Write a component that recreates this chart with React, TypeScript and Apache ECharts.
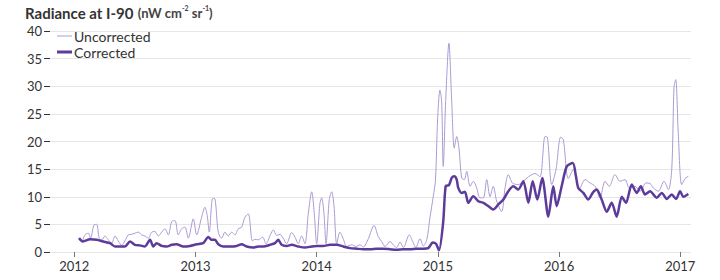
import React, { useEffect, useRef } from "react";
import * as echarts from "echarts";

const yearTicks = [2012, 2013, 2014, 2015, 2016, 2017];

const uncorrectedYears = [
  2012.041, 2012.061, 2012.088, 2012.116, 2012.135, 2012.163, 2012.185, 2012.206, 2012.226, 2012.253,
  2012.281, 2012.309, 2012.336, 2012.363, 2012.391, 2012.418, 2012.446, 2012.474, 2012.501, 2012.528,
  2012.556, 2012.583, 2012.611, 2012.639, 2012.666, 2012.693, 2012.721, 2012.748, 2012.776, 2012.804,
  2012.831, 2012.858, 2012.886, 2012.913, 2012.941, 2012.982,
  2013.010, 2013.051, 2013.078, 2013.097, 2013.114, 2013.142, 2013.161, 2013.188, 2013.216, 2013.243,
  2013.271, 2013.299, 2013.326, 2013.353, 2013.381, 2013.408, 2013.436, 2013.470, 2013.491, 2013.518,
  2013.554, 2013.582, 2013.620, 2013.642, 2013.670, 2013.697, 2013.724, 2013.752, 2013.794, 2013.821,
  2013.848, 2013.876, 2013.903, 2013.931, 2013.959, 2013.980,
  2014.000, 2014.027, 2014.041, 2014.060, 2014.077, 2014.104, 2014.124, 2014.143, 2014.165, 2014.192,
  2014.219, 2014.248, 2014.289, 2014.324, 2014.357, 2014.384, 2014.426, 2014.473, 2014.508, 2014.536,
  2014.564, 2014.605, 2014.632, 2014.660, 2014.687, 2014.715, 2014.764, 2014.792, 2014.819, 2014.852,
  2014.880, 2014.908, 2014.935, 2014.962, 2014.980, 2014.998,
  2015.017, 2015.031, 2015.044, 2015.064, 2015.091, 2015.114, 2015.135, 2015.155, 2015.174, 2015.196,
  2015.218, 2015.238, 2015.265, 2015.292, 2015.320, 2015.347, 2015.375, 2015.403, 2015.430, 2015.457,
  2015.485, 2015.526, 2015.554, 2015.581, 2015.614, 2015.663, 2015.705, 2015.746, 2015.801, 2015.842,
  2015.884, 2015.903, 2015.939, 2015.974,
  2016.013, 2016.035, 2016.076, 2016.117, 2016.167, 2016.214, 2016.255, 2016.296, 2016.337, 2016.379,
  2016.414, 2016.461, 2016.502, 2016.544, 2016.579, 2016.626, 2016.668, 2016.717, 2016.750, 2016.777,
  2016.818, 2016.865, 2016.901, 2016.929, 2016.948, 2016.962, 2016.983,
  2017.011, 2017.039, 2017.066,
];

const uncorrectedValues = [
  2.5, 1.8, 3.1, 3.4, 2.5, 4.9, 5.0, 2.5, 2.2, 2.9,
  2.2, 1.6, 2.9, 2.0, 1.2, 2.0, 3.1, 3.2, 3.4, 3.6,
  3.1, 2.9, 2.5, 3.6, 3.7, 2.9, 3.6, 4.2, 3.1, 5.5,
  5.7, 3.1, 4.2, 4.5, 2.5, 6.0,
  3.1, 6.3, 8.1, 6.6, 3.6, 9.7, 9.6, 3.6, 2.5, 3.6,
  2.9, 3.6, 3.1, 4.2, 4.5, 6.3, 6.9, 2.0, 2.3, 2.2,
  2.7, 1.5, 3.2, 4.0, 3.0, 3.2, 2.5, 1.5, 3.5, 2.7,
  1.5, 2.9, 1.5, 7.0, 10.9, 7.0,
  1.5, 8.8, 9.8, 7.0, 1.5, 9.5, 10.9, 8.3, 1.5, 3.6,
  2.4, 1.0, 1.3, 1.0, 1.3, 0.9, 2.4, 4.8, 2.8, 1.9,
  1.0, 1.9, 1.3, 0.8, 1.8, 0.8, 3.1, 1.9, 0.8, 2.4,
  1.1, 2.2, 6.3, 10.1, 13.0, 24.2,
  29.3, 27.2, 15.5, 27.2, 37.8, 27.2, 18.8, 20.9, 18.8, 13.4,
  13.1, 14.6, 11.9, 12.8, 11.6, 9.8, 9.8, 13.1, 10.0, 11.9,
  9.2, 7.3, 11.6, 14.0, 12.5, 12.2, 12.8, 13.6, 14.2, 13.6,
  20.9, 20.8, 12.2, 14.9,
  20.8, 20.3, 13.3, 14.9, 11.4, 13.1, 12.5, 11.9, 9.8, 12.8,
  11.9, 14.0, 12.8, 13.1, 11.6, 11.9, 11.0, 12.5, 12.4, 11.6,
  11.0, 12.8, 11.3, 14.9, 29.9, 31.2, 21.5,
  12.2, 13.3, 13.7,
];

const correctedYears = [
  2012.039, 2012.072, 2012.130, 2012.185, 2012.239, 2012.295, 2012.336, 2012.377, 2012.418, 2012.460,
  2012.501, 2012.542, 2012.583, 2012.625, 2012.652, 2012.680, 2012.721, 2012.762, 2012.804, 2012.845,
  2012.899, 2012.955,
  2013.010, 2013.064, 2013.106, 2013.134, 2013.161, 2013.188, 2013.229, 2013.285, 2013.340, 2013.381,
  2013.422, 2013.477, 2013.518, 2013.559, 2013.615, 2013.656, 2013.683, 2013.711, 2013.752, 2013.794,
  2013.848, 2013.903, 2013.959,
  2014.000, 2014.054, 2014.110, 2014.165, 2014.219, 2014.275, 2014.330, 2014.384, 2014.440, 2014.495,
  2014.550, 2014.605, 2014.660, 2014.715, 2014.770, 2014.825, 2014.880, 2014.921, 2014.957, 2014.984,
  2015.009, 2015.044, 2015.064, 2015.091, 2015.114, 2015.135, 2015.155, 2015.168, 2015.196, 2015.223,
  2015.251, 2015.292, 2015.333, 2015.375, 2015.416, 2015.457, 2015.498, 2015.540, 2015.581, 2015.622,
  2015.663, 2015.705, 2015.746, 2015.782, 2015.820, 2015.861, 2015.911, 2015.952, 2015.980,
  2016.021, 2016.063, 2016.113, 2016.139, 2016.158, 2016.200, 2016.241, 2016.277, 2016.310, 2016.351,
  2016.393, 2016.434, 2016.475, 2016.517, 2016.552, 2016.599, 2016.641, 2016.674, 2016.709, 2016.750,
  2016.805, 2016.847, 2016.888, 2016.929, 2016.965, 2016.998,
  2017.025, 2017.066,
];

const correctedValues = [
  2.5, 1.9, 2.3, 2.2, 1.9, 1.6, 1.0, 1.0, 1.0, 1.9,
  1.3, 1.2, 1.0, 2.2, 1.0, 1.6, 1.1, 1.0, 1.3, 1.4,
  1.0, 1.1,
  1.4, 1.6, 2.7, 2.2, 2.2, 1.4, 1.0, 1.0, 1.1, 1.4,
  1.0, 0.8, 1.0, 1.0, 1.3, 1.6, 2.2, 1.3, 1.1, 1.3,
  1.0, 0.8, 1.0,
  1.1, 1.1, 1.3, 1.3, 1.0, 0.7, 0.6, 0.5, 0.5, 0.6,
  0.6, 0.5, 0.4, 0.5, 0.5, 0.6, 0.6, 0.7, 1.7, 1.5,
  0.3, 5.5, 11.9, 12.1, 13.4, 13.7, 13.1, 11.6, 10.7, 10.9,
  8.9, 10.1, 9.2, 8.9, 8.3, 7.7, 8.6, 9.5, 11.0, 11.9,
  11.3, 12.8, 8.9, 12.8, 9.5, 13.4, 6.4, 11.9, 8.3,
  11.9, 15.5, 16.1, 13.7, 11.6, 10.7, 9.5, 10.7, 11.3, 9.5,
  7.3, 8.9, 6.4, 10.0, 8.9, 12.2, 10.7, 11.9, 10.4, 11.0,
  9.8, 10.7, 9.6, 10.4, 9.6, 11.0,
  10.0, 10.5,
];

const UNC_COLOR = "#ab9bd3";
const COR_COLOR = "#5c3b9a";
const FONT = "Lato";

function pairs(xs: number[], ys: number[]) {
  const n = Math.min(xs.length, ys.length);
  const out: number[][] = [];
  for (let i = 0; i < n; i++) out.push([xs[i], ys[i]]);
  return out;
}

export default function App() {
  const ref = useRef<HTMLDivElement>(null);
  useEffect(() => {
    const chart = echarts.init(ref.current!, null, { renderer: "svg" });
    chart.setOption({
      animation: false,
      textStyle: { fontFamily: FONT },
      title: {
        text: "{b|Radiance at I-90} {r|(nW cm}{s|-2}{r| sr}{s|-1}{r|)}",
        left: 25,
        top: 4,
        padding: 0,
        textStyle: {
          rich: {
            b: { fontFamily: FONT, fontWeight: "bold", fontSize: 15, color: "#333", lineHeight: 16 },
            r: { fontFamily: FONT, fontSize: 13, color: "#444", lineHeight: 16 },
            s: { fontFamily: FONT, fontSize: 7, color: "#444", lineHeight: 10, verticalAlign: "top" },
          },
        },
      },
      legend: [
        {
          data: ["Uncorrected"],
          left: 57,
          top: 29,
          padding: 0,
          icon: "rect",
          itemWidth: 15,
          itemHeight: 1,
          textStyle: { fontFamily: FONT, fontSize: 14, color: "#333", padding: [0, 0, 0, -3] },
        },
        {
          data: ["Corrected"],
          left: 57,
          top: 45,
          padding: 0,
          icon: "rect",
          itemWidth: 15,
          itemHeight: 3,
          textStyle: { fontFamily: FONT, fontSize: 14, color: "#333", padding: [0, 0, 0, -3] },
        },
      ],
      grid: { left: 50, right: 29, top: 31, bottom: 28 },
      xAxis: {
        type: "value",
        min: 2011.8,
        max: 2017.088,
        axisLine: { show: false },
        splitLine: { show: false },
        axisTick: {
          show: true,
          customValues: yearTicks,
          length: 5,
          lineStyle: { color: "#777" },
        },
        axisLabel: {
          customValues: yearTicks,
          formatter: (v: number) => String(v),
          fontFamily: FONT,
          fontSize: 13,
          color: "#333",
          margin: 7,
        },
      },
      yAxis: {
        type: "value",
        min: 0,
        max: 40,
        interval: 5,
        axisLine: { show: false },
        axisTick: { show: true, length: 6, lineStyle: { color: "#333" } },
        axisLabel: { fontFamily: FONT, fontSize: 13, color: "#333", margin: 8 },
        splitLine: { lineStyle: { color: "#e6e6e6" } },
      },
      series: [
        {
          name: "Uncorrected",
          type: "line",
          data: pairs(uncorrectedYears, uncorrectedValues),
          showSymbol: false,
          symbol: "none",
          smooth: 0.3,
          lineStyle: { width: 1, color: UNC_COLOR },
          itemStyle: { color: UNC_COLOR },
          z: 2,
        },
        {
          name: "Corrected",
          type: "line",
          data: pairs(correctedYears, correctedValues),
          showSymbol: false,
          symbol: "none",
          smooth: 0.25,
          lineStyle: { width: 2.5, color: COR_COLOR },
          itemStyle: { color: COR_COLOR },
          z: 3,
        },
      ],
    });
    return () => chart.dispose();
  }, []);
  return (
    <div
      ref={ref}
      style={{ position: "fixed", left: 0, top: 0, width: 720, height: 280, background: "#fff" }}
    />
  );
}
